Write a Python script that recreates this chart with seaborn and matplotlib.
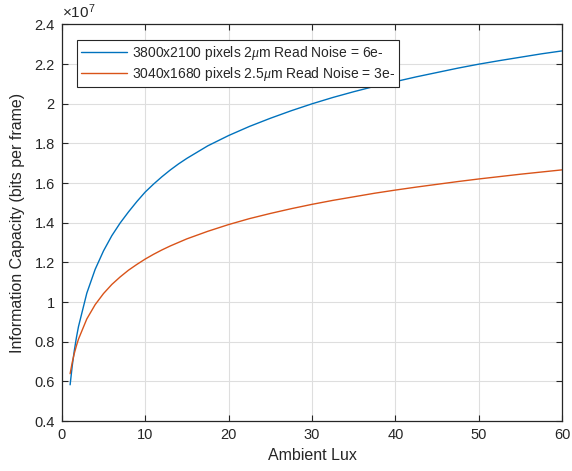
import numpy as np
import pandas as pd
import matplotlib
matplotlib.use("Agg")
import matplotlib.pyplot as plt
import seaborn as sns
from matplotlib.ticker import FuncFormatter

# Ambient illuminance (lux) sample points
lux = [1, 1.25, 1.5, 1.75, 2, 3, 4, 5, 6, 7, 8, 9, 10, 11, 12, 13, 14, 15,
       17.5, 20, 22.5, 25, 27.5, 30, 32.5, 35, 37.5, 40, 42.5, 45, 47.5,
       50, 52.5, 55, 57.5, 60]

# Information capacity, in units of 1e7 bits per frame
cap_3800 = [0.583, 0.677, 0.755, 0.820, 0.876, 1.045, 1.165, 1.258, 1.335, 1.399,
            1.455, 1.507, 1.555, 1.595, 1.632, 1.666, 1.697, 1.725,
            1.788, 1.840, 1.886, 1.927, 1.965, 2.000, 2.032, 2.061, 2.088,
            2.112, 2.136, 2.158, 2.180, 2.200, 2.218, 2.235, 2.252, 2.267]
cap_3040 = [0.639, 0.695, 0.741, 0.779, 0.813, 0.915, 0.987, 1.043, 1.089, 1.127,
            1.161, 1.190, 1.217, 1.241, 1.263, 1.283, 1.301, 1.319,
            1.357, 1.391, 1.421, 1.447, 1.471, 1.493, 1.513, 1.531, 1.549,
            1.565, 1.580, 1.594, 1.608, 1.621, 1.633, 1.645, 1.656, 1.667]

labels = [r"3800x2100 pixels 2$\mu$m Read Noise = 6e-",
          r"3040x1680 pixels 2.5$\mu$m Read Noise = 3e-"]
colors = ["#0072BD", "#D95319"]

x_ticks = [0, 10, 20, 30, 40, 50, 60]
y_ticks = [0.4, 0.6, 0.8, 1.0, 1.2, 1.4, 1.6, 1.8, 2.0, 2.2, 2.4]

df = pd.concat([
    pd.DataFrame({"lux": lux, "cap": cap_3800, "sensor": labels[0]}),
    pd.DataFrame({"lux": lux, "cap": cap_3040, "sensor": labels[1]}),
], ignore_index=True)

sns.set_style("white")
plt.rcParams["font.family"] = ["Liberation Sans", "DejaVu Sans"]
plt.rcParams["mathtext.fontset"] = "custom"
plt.rcParams["mathtext.it"] = "Liberation Serif:italic"
plt.rcParams["mathtext.rm"] = "Liberation Sans"

fig = plt.figure(figsize=(5.72, 4.71), dpi=100)
ax = fig.add_axes([0.108, 0.106, 0.875, 0.842])

sns.lineplot(data=df, x="lux", y="cap", hue="sensor", palette=colors,
             hue_order=labels, linewidth=1.0, ax=ax, legend=False)

ax.set_xlim(0, 60)
ax.set_ylim(0.4, 2.4)
ax.set_xticks(x_ticks)
ax.set_yticks(y_ticks)
ax.yaxis.set_major_formatter(FuncFormatter(lambda v, p: f"{v:g}"))
ax.xaxis.set_major_formatter(FuncFormatter(lambda v, p: f"{v:g}"))

ax.grid(True, color="#dedede", linewidth=0.8)
ax.set_axisbelow(True)
for s in ax.spines.values():
    s.set_color("#262626")
    s.set_linewidth(0.9)
ax.tick_params(direction="in", length=4, width=0.8, color="#262626",
               labelsize=10.5, labelcolor="#262626", top=True, right=True,
               bottom=True, left=True, pad=5)

ax.set_xlabel("Ambient Lux", fontsize=11.5, color="#262626", labelpad=4)
ax.set_ylabel("Information Capacity (bits per frame)", fontsize=11.5,
              color="#262626", labelpad=7)

ax.text(0.0, 1.008, r"$\times\mathregular{10^{7}}$", transform=ax.transAxes,
        fontsize=11, color="#262626", ha="left", va="bottom")

handles = [plt.Line2D([], [], color=c, linewidth=1.0) for c in colors]
leg = ax.legend(handles, labels, loc="upper left", bbox_to_anchor=(0.03, 0.962),
                borderaxespad=0, fontsize=10, frameon=True, fancybox=False,
                handlelength=3.3, handletextpad=0.35, borderpad=0.3,
                labelspacing=0.25, edgecolor="#262626", framealpha=1)
leg.get_frame().set_linewidth(0.8)
for t in leg.get_texts():
    t.set_color("#262626")

fig.savefig("out.png", dpi=100)
